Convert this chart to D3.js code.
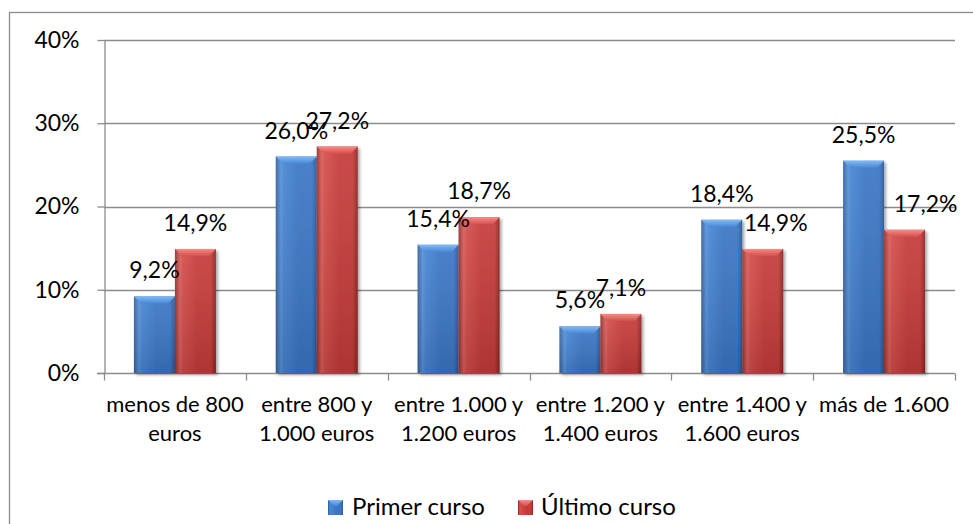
<!DOCTYPE html>
<html><head><meta charset="utf-8">
<script src="https://cdn.jsdelivr.net/npm/d3@7"></script>
<style>
html,body{margin:0;padding:0;background:#fff;}
svg{display:block;font-family:"Lato","Open Sans",sans-serif;}
</style></head>
<body>
<svg id="c" width="973" height="524"></svg>
<script>
const categories = [
  ["menos de 800","euros"],
  ["entre 800 y","1.000 euros"],
  ["entre 1.000 y","1.200 euros"],
  ["entre 1.200 y","1.400 euros"],
  ["entre 1.400 y","1.600 euros"],
  ["más de 1.600"]
];
const seriesNames = ["Primer curso","Último curso"];
const primerCurso = [9.2, 26.0, 15.4, 5.6, 18.4, 25.5];
const ultimoCurso = [14.9, 27.2, 18.7, 7.1, 14.9, 17.2];
const yTicks = [0, 10, 20, 30, 40];
// manual label nudges (px) seen in the reference for the second series
const labelNudge2 = [0, 0, 0, 0, 13, 21];

const svg = d3.select("#c");
const plot = {l:104, r:955, t:40, b:373};
const fontSize = 22;
const labelSize = 23;

const defs = svg.append("defs");
function grads(id, edge, mid, light, top) {
  const g = defs.append("linearGradient").attr("id", id).attr("x1",0).attr("x2",1).attr("y1",0).attr("y2",0);
  g.append("stop").attr("offset","0%").attr("stop-color",edge);
  g.append("stop").attr("offset","12%").attr("stop-color",light);
  g.append("stop").attr("offset","55%").attr("stop-color",mid);
  g.append("stop").attr("offset","88%").attr("stop-color",mid);
  g.append("stop").attr("offset","100%").attr("stop-color",edge);
  const t = defs.append("linearGradient").attr("id", id+"t").attr("x1",0).attr("x2",0).attr("y1",0).attr("y2",1);
  t.append("stop").attr("offset","0%").attr("stop-color",top);
  t.append("stop").attr("offset","100%").attr("stop-color",light);
  const v = defs.append("linearGradient").attr("id", id+"v").attr("x1",0).attr("x2",0).attr("y1",0).attr("y2",1);
  v.append("stop").attr("offset","0%").attr("stop-color","#fff").attr("stop-opacity",0.08);
  v.append("stop").attr("offset","100%").attr("stop-color","#000").attr("stop-opacity",0.12);
}
grads("gb", "#2a5696", "#3a76c4", "#4a88d6", "#80baf4");
grads("gr", "#8a2422", "#c53b39", "#d6504c", "#f88a86");
const f = defs.append("filter").attr("id","sh").attr("x","-20%").attr("y","-10%").attr("width","150%").attr("height","130%");
f.append("feDropShadow").attr("dx",2).attr("dy",2).attr("stdDeviation",1.6).attr("flood-color","#000").attr("flood-opacity",0.35);

// outer border
svg.append("rect").attr("x",9.5).attr("y",12.5).attr("width",1000).attr("height",600)
  .attr("fill","none").attr("stroke","#8c8c8c").attr("stroke-width",1.3);

const x0 = d3.scaleBand().domain(d3.range(categories.length)).range([plot.l, plot.r]).paddingInner(0).paddingOuter(0);
const x1 = d3.scaleBand().domain([0,1]).range([0, x0.bandwidth()]).paddingOuter(0.73).paddingInner(0);
const y = d3.scaleLinear().domain([0,40]).range([plot.b, plot.t]);

// gridlines
svg.append("g").selectAll("line").data(yTicks.filter(d=>d>0)).join("line")
  .attr("x1", plot.l).attr("x2", plot.r)
  .attr("y1", d=>Math.round(y(d))+0.5).attr("y2", d=>Math.round(y(d))+0.5)
  .attr("stroke","#8c8c8c").attr("stroke-width",1.3);

// y axis
const ya = svg.append("g").attr("transform",`translate(${plot.l+0.5},0)`)
  .call(d3.axisLeft(y).tickValues(yTicks).tickFormat(d=>d+"%").tickSizeInner(7).tickSizeOuter(0).tickPadding(18));
ya.select(".domain").attr("stroke","#8c8c8c").attr("stroke-width",1.3);
ya.selectAll(".tick line").attr("stroke","#8c8c8c").attr("stroke-width",1.3);
ya.selectAll(".tick text").attr("font-size",labelSize).attr("fill","#000").attr("font-family","Lato, 'Open Sans', sans-serif");

// x axis
const xa = svg.append("g").attr("transform",`translate(0,${Math.round(plot.b)+0.5})`);
xa.append("line").attr("x1",plot.l-7).attr("x2",plot.r).attr("y1",0).attr("y2",0).attr("stroke","#8c8c8c").attr("stroke-width",1.3);
xa.selectAll("line.t").data(d3.range(categories.length+1)).join("line").attr("class","t")
  .attr("x1",i=>Math.round(i<categories.length?x0(i):plot.r)+0.5).attr("x2",i=>Math.round(i<categories.length?x0(i):plot.r)+0.5)
  .attr("y1",0).attr("y2",7).attr("stroke","#8c8c8c").attr("stroke-width",1.3);
xa.selectAll("text").data(categories).join("text")
  .attr("x",(d,i)=>x0(i)+x0.bandwidth()/2).attr("y",38)
  .attr("text-anchor","middle").attr("font-size",fontSize).attr("fill","#000")
  .selectAll("tspan").data(d=>d).join("tspan")
  .attr("x",function(){return this.parentNode.getAttribute("x");})
  .attr("dy",(d,i)=>i===0?0:29).text(d=>d);

// bars
const seriesVals = [primerCurso, ultimoCurso];
const ids = ["gb","gr"];
const barsG = svg.append("g");
const bevel = 7;
seriesVals.forEach((vals, s) => {
  const g = barsG.append("g");
  vals.forEach((v, i) => {
    const bx = x0(i) + x1(s), bw = x1.bandwidth();
    const by = y(v), bh = y(0) - y(v);
    const bg = g.append("g").attr("filter","url(#sh)");
    bg.append("rect").attr("x",bx).attr("y",by).attr("width",bw).attr("height",bh).attr("fill",`url(#${ids[s]})`);
    bg.append("rect").attr("x",bx).attr("y",by).attr("width",bw).attr("height",bh).attr("fill",`url(#${ids[s]}v)`);
    bg.append("path").attr("d",`M${bx},${by}L${bx+bw},${by}L${bx+bw-bevel},${by+bevel}L${bx+bevel},${by+bevel}Z`)
      .attr("fill",`url(#${ids[s]}t)`);
    bg.append("path").attr("d",`M${bx},${by}L${bx+bevel},${by+bevel}L${bx+bevel},${by+bh}L${bx},${by+bh}Z`)
      .attr("fill","#fff").attr("opacity",0.06);
  });
});

// data labels
const fmt = v => v.toFixed(1).replace(".", ",") + "%";
seriesVals.forEach((vals, s) => {
  svg.append("g").selectAll("text").data(vals).join("text")
    .attr("x",(v,i)=>x0(i)+x1(s)+x1.bandwidth()/2 + (s===1?labelNudge2[i]:0))
    .attr("y",v=>y(v)-18)
    .attr("text-anchor","middle").attr("font-size",labelSize).attr("fill","#000")
    .text(fmt);
});

// legend
const lg = svg.append("g");
const legendItems = [{x:328, tx:352},{x:518, tx:541}];
seriesNames.forEach((n, s) => {
  const it = legendItems[s];
  const gg = lg.append("g");
  gg.append("rect").attr("x",it.x).attr("y",500).attr("width",15).attr("height",15).attr("fill",`url(#${ids[s]})`);
  gg.append("path").attr("d",`M${it.x},500L${it.x+15},500L${it.x+9},506L${it.x+6},506Z`).attr("fill",`url(#${ids[s]}t)`);
  gg.append("text").attr("x",it.tx).attr("y",515).attr("font-size",labelSize+1).attr("fill","#000").text(n);
});
</script>
</body></html>
